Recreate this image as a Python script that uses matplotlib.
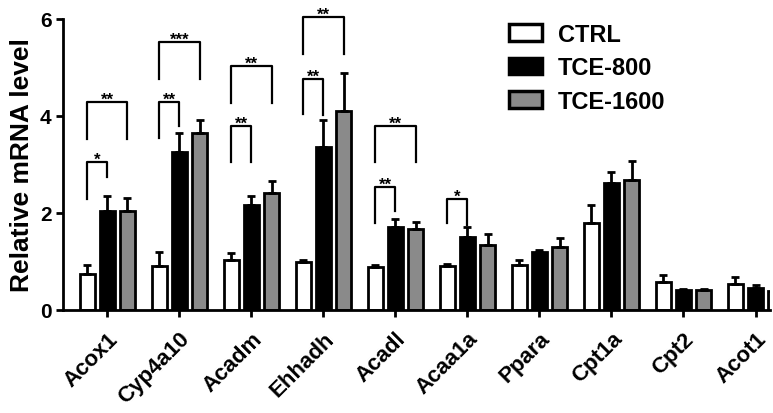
import numpy as np
import matplotlib
matplotlib.use("Agg")
import matplotlib.pyplot as plt
from matplotlib.patches import Patch

plt.rcParams['font.family'] = ['Liberation Sans', 'DejaVu Sans']
plt.rcParams['font.weight'] = 'bold'

genes = ['Acox1', 'Cyp4a10', 'Acadm', 'Ehhadh', 'Acadl', 'Acaa1a', 'Ppara', 'Cpt1a', 'Cpt2', 'Acot1']
groups = ['CTRL', 'TCE-800', 'TCE-1600']

ctrl = [0.74, 0.91, 1.03, 0.99, 0.88, 0.91, 0.93, 1.80, 0.58, 0.54]
ctrl_err = [0.19, 0.29, 0.14, 0.04, 0.05, 0.03, 0.10, 0.37, 0.13, 0.13]
tce800 = [2.04, 3.25, 2.16, 3.35, 1.70, 1.50, 1.19, 2.61, 0.41, 0.45]
tce800_err = [0.31, 0.40, 0.19, 0.57, 0.18, 0.21, 0.05, 0.23, 0.03, 0.06]
tce1600 = [2.03, 3.65, 2.41, 4.11, 1.67, 1.33, 1.29, 2.67, 0.41, 0.39]
tce1600_err = [0.27, 0.27, 0.24, 0.78, 0.15, 0.23, 0.20, 0.41, 0.03, 0.04]

# significance brackets: gene index, compared group, bracket top, left leg end, right leg end, label
sig_gene = [0, 0, 1, 1, 2, 2, 3, 3, 4, 4, 5]
sig_group = [1, 2, 1, 2, 1, 2, 1, 2, 1, 2, 1]
sig_top = [3.05, 4.29, 4.29, 5.53, 3.79, 5.02, 4.76, 6.04, 2.53, 3.80, 2.29]
sig_left = [2.29, 3.53, 3.55, 4.76, 3.05, 4.27, 4.04, 5.28, 1.79, 3.05, 1.79]
sig_right = [2.74, 3.53, 3.80, 4.76, 3.05, 4.27, 4.02, 5.28, 2.04, 3.05, 1.75]
sig_text = ['*', '**', '**', '***', '**', '**', '**', '**', '**', '**', '*']

fig = plt.figure(figsize=(7.73, 4.14), dpi=100)
ax = fig.add_axes([0.082, 0.249, 0.914, 0.703])

x = np.arange(len(genes))
off = 0.28
w = 0.21
colors = ['white', 'black', '#8a8a8a']
vals = [ctrl, tce800, tce1600]
errs = [ctrl_err, tce800_err, tce1600_err]
for i in range(3):
    ax.bar(x + (i - 1) * off, vals[i], w, color=colors[i], edgecolor='black', linewidth=2,
           yerr=[np.zeros(len(genes)), errs[i]], capsize=3,
           error_kw=dict(elinewidth=2, capthick=2, ecolor='black'), zorder=2)

for g, grp, top, l, r, t in zip(sig_gene, sig_group, sig_top, sig_left, sig_right, sig_text):
    x0 = g - off
    x1 = g + (grp - 1) * off
    ax.plot([x0, x0, x1, x1], [l, top, top, r], color='black', lw=1.6, clip_on=False)
    ax.text((x0 + x1) / 2, top - 0.1, t, ha='center', va='bottom', fontsize=12, fontweight='bold')

ax.set_xlim(-0.61, 9.2)
ax.set_ylim(0, 6)
ax.set_yticks([0, 2, 4, 6])
ax.set_xticks(x)
ax.set_xticklabels(genes, rotation=45, ha='right', rotation_mode='anchor', fontsize=16, fontweight='bold')
ax.tick_params(axis='y', labelsize=15, width=2, length=5)
ax.tick_params(axis='x', width=2, length=5, pad=8)
ax.set_ylabel('Relative mRNA level', fontsize=19, fontweight='bold', labelpad=4)
for s in ['top', 'right']:
    ax.spines[s].set_visible(False)
for s in ['left', 'bottom']:
    ax.spines[s].set_linewidth(2)

handles = [Patch(facecolor=c, edgecolor='black', linewidth=2.5) for c in colors]
ax.legend(handles, groups, loc='upper left', bbox_to_anchor=(0.6, 1.06), frameon=False,
          fontsize=17, handlelength=1.4, handleheight=0.7, labelspacing=0.45, handletextpad=0.7)

fig.savefig('out.png', dpi=100)
